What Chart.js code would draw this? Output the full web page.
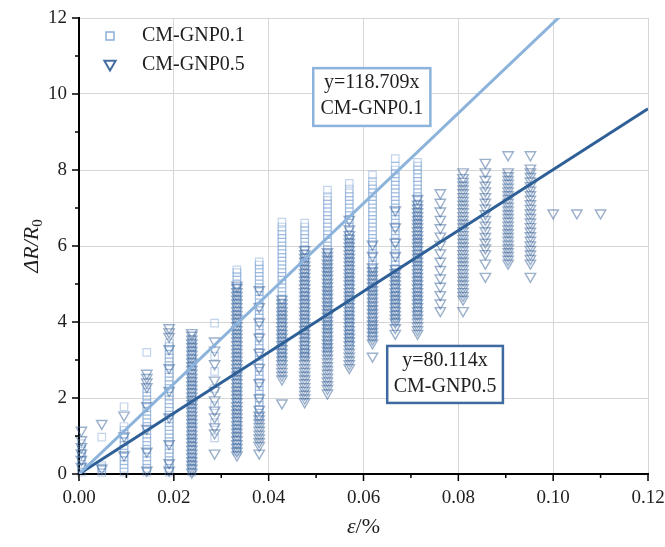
<!DOCTYPE html>
<html>
<head>
<meta charset="utf-8">
<title>CM-GNP strain sensing</title>
<script src="https://cdn.jsdelivr.net/npm/chart.js@4.4.1/dist/chart.umd.min.js"></script>
<style>
  html, body { margin: 0; padding: 0; background: #fff; }
  #wrap { position: relative; width: 665px; height: 547px; }
</style>
</head>
<body>
<div id="wrap"><canvas id="chart"></canvas></div>
<script>
/*global window, document, Chart*/
/*jslint indent: 2 */

// series names and fit labels
var seriesNames = ["CM-GNP0.1", "CM-GNP0.5"];
var fitLabels = [["y=118.709x", "CM-GNP0.1"], ["y=80.114x", "CM-GNP0.5"]];

var strainCols = [0.0005, 0.0048, 0.0095, 0.0143, 0.019, 0.0238, 0.0286, 0.0333,
  0.038, 0.0428, 0.0476, 0.0524, 0.057, 0.0619, 0.0667, 0.0714, 0.0762, 0.081,
  0.0857, 0.0905, 0.0952, 0.1, 0.105, 0.11];

// dR/R0 readings of CM-GNP0.1, one list per strain column
var gnp01Cols = [
  [0.05, 0.15, 0.25, 0.35, 0.45, 0.55, 0.65, 0.8],
  [0.04, 0.1, 0.16, 0.22, 0.97],
  [0.05, 0.15, 0.25, 0.35, 0.45, 0.55, 0.65, 0.75, 0.85, 0.95, 1.05, 1.15, 1.25, 1.77],
  [0.05, 0.15, 0.25, 0.35, 0.45, 0.55, 0.65, 0.75, 0.85, 0.95, 1.05, 1.15, 1.25, 1.35, 1.45, 1.55,
    1.65, 1.75, 1.85, 1.95, 2.05, 2.15, 2.25, 3.2],
  [0.05, 0.15, 0.25, 0.35, 0.45, 0.55, 0.65, 0.75, 0.85, 0.95, 1.05, 1.15, 1.25, 1.35, 1.45, 1.55,
    1.65, 1.75, 1.85, 1.95, 2.05, 2.15, 2.25, 2.35, 2.45, 2.55, 2.65, 2.75, 2.85, 2.95, 3.05, 3.15,
    3.25, 3.35, 3.45],
  [0.05, 0.15, 0.25, 0.35, 0.45, 0.55, 0.65, 0.75, 0.85, 0.95, 1.05, 1.15, 1.25, 1.35, 1.45, 1.55,
    1.65, 1.75, 1.85, 1.95, 2.05, 2.15, 2.25, 2.35, 2.45, 2.55, 2.65, 2.75, 2.85, 2.95, 3.05, 3.15,
    3.25, 3.35, 3.45, 3.55],
  [0.95, 1.35, 1.8, 2.25, 2.7, 3.1, 3.97],
  [0.6, 0.7, 0.8, 0.9, 1.0, 1.1, 1.2, 1.3, 1.4, 1.5, 1.6, 1.7, 1.8, 1.9, 2.0, 2.1, 2.2, 2.3, 2.4,
    2.5, 2.6, 2.7, 2.8, 2.9, 3.0, 3.1, 3.2, 3.3, 3.4, 3.5, 3.6, 3.7, 3.8, 3.9, 4.0, 4.1, 4.2, 4.3,
    4.4, 4.5, 4.6, 4.7, 4.8, 4.9, 5.0, 5.1, 5.2, 5.3, 5.37],
  [1.5, 1.6, 1.7, 1.8, 1.9, 2.0, 2.1, 2.2, 2.3, 2.4, 2.5, 2.6, 2.7, 2.8, 2.9, 3.0, 3.1, 3.2, 3.3,
    3.4, 3.5, 3.6, 3.7, 3.8, 3.9, 4.0, 4.1, 4.2, 4.3, 4.4, 4.5, 4.6, 4.7, 4.8, 4.9, 5.0, 5.1, 5.2,
    5.3, 5.4, 5.5, 5.58],
  [3.0, 3.1, 3.2, 3.3, 3.4, 3.5, 3.6, 3.7, 3.8, 3.9, 4.0, 4.1, 4.2, 4.3, 4.4, 4.5, 4.6, 4.7, 4.8,
    4.9, 5.0, 5.1, 5.2, 5.3, 5.4, 5.5, 5.6, 5.7, 5.8, 5.9, 6.0, 6.1, 6.2, 6.3, 6.4, 6.5, 6.63],
  [3.1, 3.2, 3.3, 3.4, 3.5, 3.6, 3.7, 3.8, 3.9, 4.0, 4.1, 4.2, 4.3, 4.4, 4.5, 4.6, 4.7, 4.8, 4.9,
    5.0, 5.1, 5.2, 5.3, 5.4, 5.5, 5.6, 5.7, 5.8, 5.9, 6.0, 6.1, 6.2, 6.3, 6.4, 6.5, 6.6],
  [3.2, 3.3, 3.4, 3.5, 3.6, 3.7, 3.8, 3.9, 4.0, 4.1, 4.2, 4.3, 4.4, 4.5, 4.6, 4.7, 4.8, 4.9, 5.0,
    5.1, 5.2, 5.3, 5.4, 5.5, 5.6, 5.7, 5.8, 5.9, 6.0, 6.1, 6.2, 6.3, 6.4, 6.5, 6.6, 6.7, 6.8, 6.9,
    7.0, 7.1, 7.2, 7.3, 7.47],
  [3.4, 3.5, 3.6, 3.7, 3.8, 3.9, 4.0, 4.1, 4.2, 4.3, 4.4, 4.5, 4.6, 4.7, 4.8, 4.9, 5.0, 5.1, 5.2,
    5.3, 5.4, 5.5, 5.6, 5.7, 5.8, 5.9, 6.0, 6.1, 6.2, 6.3, 6.4, 6.5, 6.6, 6.7, 6.8, 6.9, 7.0, 7.1,
    7.2, 7.3, 7.4, 7.5, 7.65],
  [3.6, 3.7, 3.8, 3.9, 4.0, 4.1, 4.2, 4.3, 4.4, 4.5, 4.6, 4.7, 4.8, 4.9, 5.0, 5.1, 5.2, 5.3, 5.4,
    5.5, 5.6, 5.7, 5.8, 5.9, 6.0, 6.1, 6.2, 6.3, 6.4, 6.5, 6.6, 6.7, 6.8, 6.9, 7.0, 7.1, 7.2, 7.3,
    7.4, 7.5, 7.6, 7.7, 7.87],
  [4.0, 4.1, 4.2, 4.3, 4.4, 4.5, 4.6, 4.7, 4.8, 4.9, 5.0, 5.1, 5.2, 5.3, 5.4, 5.5, 5.6, 5.7, 5.8,
    5.9, 6.0, 6.1, 6.2, 6.3, 6.4, 6.5, 6.6, 6.7, 6.8, 6.9, 7.0, 7.1, 7.2, 7.3, 7.4, 7.5, 7.6, 7.7,
    7.8, 7.9, 8.0, 8.1, 8.3],
  [4.2, 4.3, 4.4, 4.5, 4.6, 4.7, 4.8, 4.9, 5.0, 5.1, 5.2, 5.3, 5.4, 5.5, 5.6, 5.7, 5.8, 5.9, 6.0,
    6.1, 6.2, 6.3, 6.4, 6.5, 6.6, 6.7, 6.8, 6.9, 7.0, 7.1, 7.2, 7.3, 7.4, 7.5, 7.6, 7.7, 7.8, 7.9,
    8.0, 8.1, 8.2]
];

// dR/R0 readings of CM-GNP0.5, one list per strain column
var gnp05Cols = [
  [0.2, 0.38, 0.55, 0.72, 0.9, 1.15],
  [0.15, 1.33],
  [0.5, 1.0, 1.55],
  [0.1, 0.6, 1.2, 1.8, 2.3, 2.42, 2.54, 2.65],
  [0.1, 0.3, 0.8, 1.5, 2.2, 2.8, 3.3, 3.62, 3.74, 3.85],
  [0.05, 0.15, 0.25, 0.35, 0.45, 0.55, 0.65, 0.75, 0.85, 0.95, 1.05, 1.15, 1.25, 1.35, 1.45, 1.55,
    1.65, 1.75, 1.85, 1.95, 2.05, 2.15, 2.25, 2.35, 2.45, 2.55, 2.65, 2.75, 2.85, 2.95, 3.05, 3.15,
    3.25, 3.35, 3.45, 3.55, 3.65, 3.72],
  [0.55, 1.08, 1.24, 1.5, 1.68, 1.95, 2.2, 2.47, 2.9, 3.26, 3.5],
  [0.5, 0.6, 0.7, 0.8, 0.9, 1.0, 1.1, 1.2, 1.3, 1.4, 1.5, 1.6, 1.7, 1.8, 1.9, 2.0, 2.1, 2.2, 2.3,
    2.4, 2.5, 2.6, 2.7, 2.8, 2.9, 3.0, 3.1, 3.2, 3.3, 3.4, 3.5, 3.6, 3.7, 3.8, 3.9, 4.0, 4.1, 4.2,
    4.3, 4.4, 4.5, 4.6, 4.7, 4.8, 4.9, 4.97],
  [0.55, 0.75, 0.85, 0.95, 1.05, 1.15, 1.25, 1.35, 1.45, 1.55, 1.7, 2.0, 2.4, 2.8, 3.2, 3.6, 4.0,
    4.4, 4.85],
  [1.87, 2.5, 2.6, 2.7, 2.8, 2.9, 3.0, 3.1, 3.2, 3.3, 3.4, 3.5, 3.6, 3.7, 3.8, 3.9, 4.0, 4.1, 4.2,
    4.3, 4.4, 4.5, 4.6],
  [1.9, 2.0, 2.1, 2.2, 2.3, 2.4, 2.5, 2.6, 2.7, 2.8, 2.9, 3.0, 3.1, 3.2, 3.3, 3.4, 3.5, 3.6, 3.7,
    3.8, 3.9, 4.0, 4.1, 4.2, 4.3, 4.4, 4.5, 4.6, 4.7, 4.8, 4.9, 5.0, 5.1, 5.2, 5.3, 5.4, 5.5, 5.6,
    5.7, 5.8, 5.9],
  [2.13, 2.25, 2.35, 2.45, 2.55, 2.65, 2.75, 2.85, 2.95, 3.05, 3.15, 3.25, 3.35, 3.45, 3.55, 3.65,
    3.75, 3.85, 3.95, 4.05, 4.15, 4.25, 4.35, 4.45, 4.55, 4.65, 4.75, 4.85, 4.95, 5.05, 5.15, 5.25,
    5.35, 5.45, 5.55, 5.65, 5.75, 5.85],
  [2.8, 2.9, 3.0, 3.1, 3.2, 3.3, 3.4, 3.5, 3.6, 3.7, 3.8, 3.9, 4.0, 4.1, 4.2, 4.3, 4.4, 4.5, 4.6,
    4.7, 4.8, 4.9, 5.0, 5.1, 5.2, 5.3, 5.4, 5.5, 5.6, 5.7, 5.8, 5.9, 6.0, 6.1, 6.2, 6.3, 6.45, 6.7],
  [3.1, 3.45, 3.55, 3.65, 3.75, 3.85, 3.95, 4.05, 4.15, 4.25, 4.35, 4.45, 4.55, 4.65, 4.75, 4.85,
    4.95, 5.05, 5.15, 5.25, 5.35, 5.45, 5.75, 6.05],
  [3.7, 3.85, 4.0, 4.1, 4.2, 4.3, 4.4, 4.5, 4.6, 4.7, 4.8, 4.9, 5.0, 5.1, 5.2, 5.3, 5.4, 5.75, 6.1,
    6.5, 6.95],
  [3.7, 3.8, 3.9, 4.0, 4.1, 4.2, 4.3, 4.4, 4.5, 4.6, 4.7, 4.8, 4.9, 5.0, 5.1, 5.2, 5.3, 5.4, 5.5,
    5.6, 5.7, 5.8, 5.9, 6.0, 6.1, 6.2, 6.3, 6.4, 6.5, 6.6, 6.7, 6.8, 6.9, 7.0, 7.1, 7.25],
  [4.3, 4.5, 4.72, 4.94, 5.16, 5.38, 5.6, 5.82, 6.04, 6.26, 6.48, 6.7, 6.92, 7.15, 7.4],
  [4.3, 4.6, 4.7, 4.8, 4.9, 5.0, 5.1, 5.2, 5.3, 5.4, 5.5, 5.6, 5.7, 5.8, 5.9, 6.0, 6.1, 6.2, 6.3,
    6.4, 6.5, 6.6, 6.7, 6.8, 6.9, 7.0, 7.1, 7.2, 7.3, 7.4, 7.5, 7.6, 7.7, 7.8, 7.95],
  [5.2, 5.55, 5.8, 5.95, 6.1, 6.25, 6.4, 6.55, 6.7, 6.85, 7.0, 7.15, 7.3, 7.45, 7.6, 7.75, 7.95,
    8.2],
  [5.55, 5.65, 5.75, 5.85, 5.95, 6.05, 6.15, 6.25, 6.35, 6.45, 6.55, 6.65, 6.75, 6.85, 6.95, 7.05,
    7.15, 7.25, 7.35, 7.45, 7.55, 7.65, 7.75, 7.85, 7.95, 8.4],
  [5.2, 5.55, 5.67, 5.79, 5.91, 6.03, 6.15, 6.27, 6.39, 6.51, 6.63, 6.75, 6.87, 6.99, 7.11, 7.23,
    7.35, 7.47, 7.59, 7.71, 7.83, 7.95, 8.05, 8.4],
  [6.87],
  [6.87],
  [6.87]
];

// linear fits, end points
var fitX = [0, 0.12];
var fit01Y = [0, 14.245];
var fit05Y = [0, 9.614];

// tick labels
var xTickLabels = ["0.00", "0.02", "0.04", "0.06", "0.08", "0.10", "0.12"];
var yTickLabels = ["0", "2", "4", "6", "8", "10", "12"];

(function (window, document, Chart) {
  "use strict";

  var SERIF = "'Liberation Serif', 'Times New Roman', serif",
    LIGHT = "rgba(120, 160, 210, 0.45)",
    DARK = "rgba(55, 98, 152, 0.5)",
    LIGHT_LINE = "#8cb3db",
    DARK_LINE = "#2e6097",
    TEXT = "#1e1e1e";

  function toPoints(cols) {
    var i, j, out = [];
    for (i = 0; i < cols.length; i += 1) {
      for (j = 0; j < cols[i].length; j += 1) {
        out.push({x: strainCols[i], y: cols[i][j]});
      }
    }
    return out;
  }

  function toLine(xs, ys) {
    var i, out = [];
    for (i = 0; i < xs.length; i += 1) {
      out.push({x: xs[i], y: ys[i]});
    }
    return out;
  }

  function xMajor(value) {
    return xTickLabels.indexOf(value.toFixed(2)) >= 0;
  }

  function yMajor(value) {
    return yTickLabels.indexOf(String(Math.round(value))) >= 0;
  }

  function drawTriangle(ctx, cx, cy, r) {
    ctx.beginPath();
    ctx.moveTo(cx - r * 0.866, cy - r * 0.5);
    ctx.lineTo(cx + r * 0.866, cy - r * 0.5);
    ctx.lineTo(cx, cy + r);
    ctx.closePath();
    ctx.stroke();
  }

  // ticks, axis titles, legend and fit boxes
  var decor = {
    id: "decor",
    afterDraw: function (chart) {
      var ctx = chart.ctx,
        area = chart.chartArea,
        xs = chart.scales.x,
        ys = chart.scales.y,
        i, px, len, boxes, b, l, r, t, btm, cx, w0, w1;

      ctx.save();
      // tick marks, major longer than minor
      ctx.strokeStyle = "#000";
      ctx.lineWidth = 1.5;
      for (i = 0; i < xs.ticks.length; i += 1) {
        px = xs.getPixelForValue(xs.ticks[i].value);
        len = xMajor(xs.ticks[i].value) ? 7 : 4;
        ctx.beginPath();
        ctx.moveTo(px, area.bottom);
        ctx.lineTo(px, area.bottom + len);
        ctx.stroke();
      }
      for (i = 0; i < ys.ticks.length; i += 1) {
        px = ys.getPixelForValue(ys.ticks[i].value);
        len = yMajor(ys.ticks[i].value) ? 7 : 4;
        ctx.beginPath();
        ctx.moveTo(area.left, px);
        ctx.lineTo(area.left - len, px);
        ctx.stroke();
      }

      // x title
      ctx.fillStyle = TEXT;
      ctx.textBaseline = "middle";
      ctx.textAlign = "left";
      ctx.font = "italic 22px " + SERIF;
      w0 = ctx.measureText("\u03b5").width;
      ctx.font = "22px " + SERIF;
      w1 = ctx.measureText("/%").width;
      cx = (area.left + area.right) / 2 - (w0 + w1) / 2;
      ctx.font = "italic 22px " + SERIF;
      ctx.fillText("\u03b5", cx, area.bottom + 53);
      ctx.font = "22px " + SERIF;
      ctx.fillText("/%", cx + w0, area.bottom + 53);

      // y title
      ctx.save();
      ctx.translate(area.left - 47, (area.top + area.bottom) / 2);
      ctx.rotate(-Math.PI / 2);
      ctx.font = "italic 22px " + SERIF;
      w0 = ctx.measureText("\u0394R/R").width;
      ctx.font = "15px " + SERIF;
      w1 = ctx.measureText("0").width;
      ctx.font = "italic 22px " + SERIF;
      ctx.fillText("\u0394R/R", -(w0 + w1) / 2, 0);
      ctx.font = "15px " + SERIF;
      ctx.fillText("0", -(w0 + w1) / 2 + w0, 6);
      ctx.restore();

      // legend
      ctx.font = "20px " + SERIF;
      ctx.strokeStyle = "rgba(125, 165, 212, 0.9)";
      ctx.lineWidth = 1.5;
      ctx.strokeRect(area.left + 27, area.top + 14, 8, 8);
      ctx.fillText(seriesNames[0], area.left + 63, area.top + 18);
      ctx.strokeStyle = "rgba(58, 102, 156, 0.95)";
      ctx.lineWidth = 2;
      drawTriangle(ctx, area.left + 31, area.top + 46, 6.5);
      ctx.fillText(seriesNames[1], area.left + 63, area.top + 47);

      // fit annotation boxes, anchored in data space
      boxes = [
        {x0: 0.0494, x1: 0.0741, y0: 10.68, y1: 9.16, color: LIGHT_LINE, text: fitLabels[0]},
        {x0: 0.065, x1: 0.0894, y0: 3.37, y1: 1.87, color: "#3d6a9f", text: fitLabels[1]}
      ];
      ctx.textAlign = "center";
      for (i = 0; i < boxes.length; i += 1) {
        b = boxes[i];
        l = xs.getPixelForValue(b.x0);
        r = xs.getPixelForValue(b.x1);
        t = ys.getPixelForValue(b.y0);
        btm = ys.getPixelForValue(b.y1);
        ctx.fillStyle = "#fff";
        ctx.fillRect(l, t, r - l, btm - t);
        ctx.strokeStyle = b.color;
        ctx.lineWidth = 2.5;
        ctx.strokeRect(l, t, r - l, btm - t);
        ctx.fillStyle = TEXT;
        ctx.font = "20px " + SERIF;
        ctx.fillText(b.text[0], (l + r) / 2, t + 15);
        ctx.fillText(b.text[1], (l + r) / 2, t + 41);
      }
      ctx.restore();
    }
  };

  function stepTicks(max, step) {
    return function (scale) {
      var i, ticks = [];
      for (i = 0; i <= Math.round(max / step); i += 1) {
        ticks.push({value: Math.round(i * step * 1000) / 1000});
      }
      scale.ticks = ticks;
    };
  }

  new Chart(document.getElementById("chart"), {
    type: "scatter",
    data: {
      datasets: [
        {
          label: "fit " + seriesNames[0],
          data: toLine(fitX, fit01Y),
          showLine: true,
          borderColor: LIGHT_LINE,
          borderWidth: 3,
          pointRadius: 0
        },
        {
          label: "fit " + seriesNames[1],
          data: toLine(fitX, fit05Y),
          showLine: true,
          borderColor: DARK_LINE,
          borderWidth: 3,
          pointRadius: 0
        },
        {
          label: seriesNames[1],
          data: toPoints(gnp05Cols),
          pointStyle: "triangle",
          pointRotation: 180,
          pointRadius: 6,
          pointBorderWidth: 1.4,
          pointBorderColor: DARK,
          pointBackgroundColor: "rgba(0,0,0,0)",
          clip: false
        },
        {
          label: seriesNames[0],
          data: toPoints(gnp01Cols),
          pointStyle: "rect",
          pointRadius: 5.3,
          pointBorderWidth: 1.2,
          pointBorderColor: LIGHT,
          pointBackgroundColor: "rgba(0,0,0,0)",
          clip: false
        }
      ]
    },
    options: {
      responsive: true,
      maintainAspectRatio: false,
      animation: false,
      events: [],
      layout: {padding: {top: 18, right: 17, left: 0, bottom: 0}},
      plugins: {
        legend: {display: false},
        tooltip: {enabled: false}
      },
      scales: {
        x: {
          type: "linear",
          min: 0,
          max: 0.12,
          afterBuildTicks: stepTicks(0.12, 0.01),
          afterFit: function (scale) {
            scale.height = 73;
            scale.paddingLeft = 0;
            scale.paddingRight = 0;
          },
          border: {display: true, color: "#000", width: 2},
          grid: {
            drawTicks: false,
            lineWidth: 1,
            color: function (ctx) {
              return ctx.tick && xMajor(ctx.tick.value) ? "#d6d6d6" : "rgba(0,0,0,0)";
            }
          },
          ticks: {
            autoSkip: false,
            maxRotation: 0,
            padding: 13,
            color: TEXT,
            font: {family: SERIF, size: 19},
            callback: function (value) {
              return xMajor(value) ? value.toFixed(2) : "";
            }
          }
        },
        y: {
          type: "linear",
          min: 0,
          max: 12,
          afterBuildTicks: stepTicks(12, 1),
          afterFit: function (scale) {
            scale.width = 79;
            scale.paddingTop = 0;
            scale.paddingBottom = 0;
          },
          border: {display: true, color: "#000", width: 2},
          grid: {
            drawTicks: false,
            lineWidth: 1,
            color: function (ctx) {
              return ctx.tick && yMajor(ctx.tick.value) ? "#d6d6d6" : "rgba(0,0,0,0)";
            }
          },
          ticks: {
            autoSkip: false,
            padding: 12,
            color: TEXT,
            font: {family: SERIF, size: 19},
            callback: function (value) {
              return yMajor(value) ? String(Math.round(value)) : "";
            }
          }
        }
      }
    },
    plugins: [decor]
  });

}(window, document, Chart));
</script>
</body>
</html>
